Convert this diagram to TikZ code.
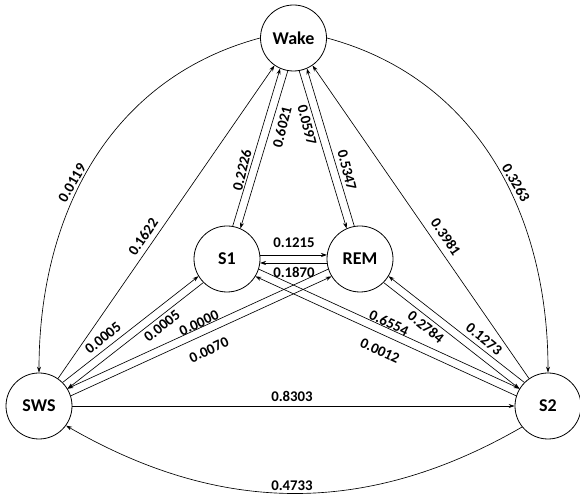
\documentclass[tikz,border=0pt]{standalone}
\usepackage{fontspec}
\setmainfont{Carlito}
\usetikzlibrary{calc,arrows.meta}
\begin{document}
\begin{tikzpicture}[x=1pt,y=1pt,
  st/.style={circle, draw, line width=0.8pt, minimum size=66pt, inner sep=0pt, font=\bfseries\fontsize{18}{20}\selectfont},
  ar/.style={line width=0.65pt, -{Stealth[length=6pt,width=4pt]}},
  pr/.style={shorten <=33pt, shorten >=33pt},
  lab/.style={font=\bfseries\fontsize{14.8}{16}\selectfont, inner sep=0pt}
]
\useasboundingbox (0,0) rectangle (580,497);
% states
\node[st] (W) at (293.5,459) {Wake};
\node[st] (S1) at (227,238) {S1};
\node[st] (REM) at (360,238) {REM};
\node[st] (SWS) at (39,91) {SWS};
\node[st] (S2) at (548,91) {S2};
% curved edges
\draw[ar] (W.west) to[out=195,in=90] (SWS.north);
\draw[ar] (W.east) to[out=-15,in=90] (S2.north);
\draw[ar] (S2.219) to[out=210,in=-30] (SWS.-36);
% single straight edges
\draw[ar] (SWS) -- (W);
\draw[ar] (S2) -- (W);
\draw[ar] (SWS) -- (S2);
% pairs
\draw[ar,pr] ($(S1)!4pt!90:(W)$) -- ($(W)!4pt!-90:(S1)$);
\draw[ar,pr] ($(W)!4pt!90:(S1)$) -- ($(S1)!4pt!-90:(W)$);
\draw[ar,pr] ($(W)!4pt!-90:(REM)$) -- ($(REM)!4pt!90:(W)$);
\draw[ar,pr] ($(REM)!4pt!-90:(W)$) -- ($(W)!4pt!90:(REM)$);
\draw[ar,pr] ($(S1)!4pt!90:(REM)$) -- ($(REM)!4pt!-90:(S1)$);
\draw[ar,pr] ($(REM)!4pt!90:(S1)$) -- ($(S1)!4pt!-90:(REM)$);
\draw[ar,pr] ($(SWS)!4pt!90:(S1)$) -- ($(S1)!4pt!-90:(SWS)$);
\draw[ar,pr] ($(S1)!4pt!90:(SWS)$) -- ($(SWS)!4pt!-90:(S1)$);
\draw[ar,pr] ($(REM)!4pt!-90:(SWS)$) -- ($(SWS)!4pt!90:(REM)$);
\draw[ar,pr] ($(SWS)!4pt!-90:(REM)$) -- ($(REM)!4pt!90:(SWS)$);
\draw[ar,pr] ($(S1)!4pt!90:(S2)$) -- ($(S2)!4pt!-90:(S1)$);
\draw[ar,pr] ($(S2)!4pt!90:(S1)$) -- ($(S1)!4pt!-90:(S2)$);
\draw[ar,pr] ($(S2)!4pt!-90:(REM)$) -- ($(REM)!4pt!90:(S2)$);
\draw[ar,pr] ($(REM)!4pt!-90:(S2)$) -- ($(S2)!4pt!90:(REM)$);
% labels
\node[lab,rotate=60] (l1) at (72,314) {0.0119};
\node[lab,rotate=56] (l2) at (143,260) {0.1622};
\node[lab,rotate=76] (l3) at (242,327) {0.2226};
\node[lab,rotate=76] (l4) at (282,370) {0.6021};
\node[lab,rotate=-76] (l5) at (307,372) {0.0597};
\node[lab,rotate=-76] (l6) at (347,327) {0.5347};
\node[lab,rotate=-56] (l7) at (446,260) {0.3981};
\node[lab,rotate=-60] (l8) at (516,314) {0.3263};
\node[lab] (l9) at (294,254) {0.1215};
\node[lab] (l10) at (294,225) {0.1870};
\node[lab,rotate=39] (l11) at (103,159) {0.0005};
\node[lab,rotate=39] (l12) at (162,171) {0.0005};
\node[lab,rotate=25] (l13) at (199,174) {0.0000};
\node[lab,rotate=25] (l14) at (209,147) {0.0070};
\node[lab,rotate=-25] (l15) at (389,174) {0.6554};
\node[lab,rotate=-25] (l16) at (380,146) {0.0012};
\node[lab,rotate=-39] (l17) at (426,170) {0.2784};
\node[lab,rotate=-39] (l18) at (484,158) {0.1273};
\node[lab] (l19) at (292,101) {0.8303};
\node[lab] (l20) at (292,11) {0.4733};
\end{tikzpicture}
\end{document}
